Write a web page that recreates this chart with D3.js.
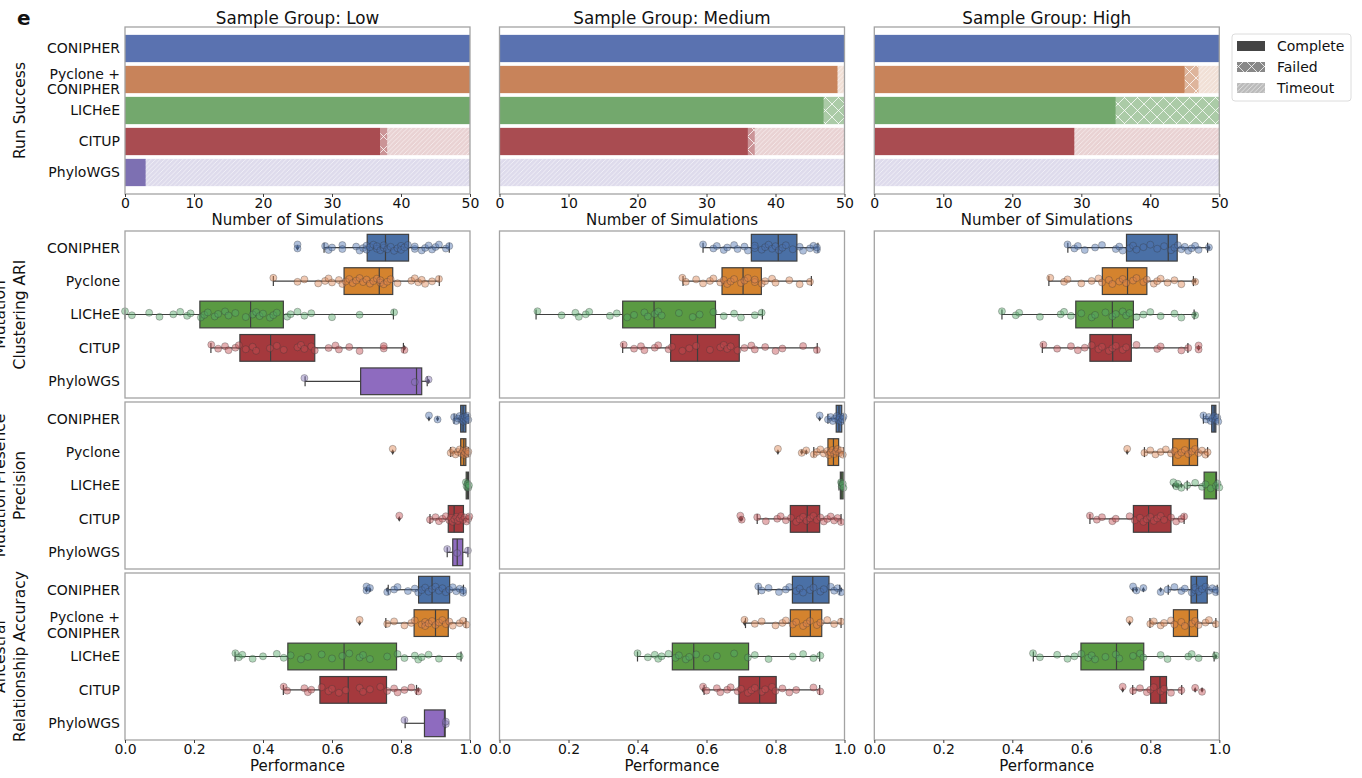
<!DOCTYPE html>
<html>
<head>
<meta charset="utf-8">
<script src="https://cdn.jsdelivr.net/npm/d3@7"></script>
<style>
  body { margin: 0; background: #fff; }
  text { font-family: "DejaVu Sans", sans-serif; fill: #111; }
</style>
</head>
<body>
<svg width="1362" height="778"></svg>
<script>
// ---- data ----
const groups = ["Low", "Medium", "High"]
const runMethods = ["CONIPHER", "Pyclone + CONIPHER", "LICHeE", "CITUP", "PhyloWGS"]
const ariMethods = ["CONIPHER", "Pyclone", "LICHeE", "CITUP", "PhyloWGS"]

// run success counts, one row per sample group
const completeRuns = [[50, 50, 50, 37, 3], [50, 49, 47, 36, 0], [50, 45, 35, 29, 0]]
const failedRuns   = [[0, 0, 0, 1, 0],     [0, 0, 3, 1, 0],     [0, 2, 15, 0, 0]]
const timeoutRuns  = [[0, 0, 0, 12, 47],   [0, 1, 0, 13, 50],   [0, 3, 0, 21, 50]]

// box stats per method: [whisker low, q1, median, q3, whisker high]
const ariStatsLow  = [[0.577, 0.702, 0.755, 0.822, 0.940], [0.430, 0.635, 0.737, 0.776, 0.911], [0.0, 0.217, 0.364, 0.459, 0.778], [0.249, 0.333, 0.422, 0.550, 0.807], [0.522, 0.683, 0.845, 0.860, 0.876]]
const ariStatsMed  = [[0.590, 0.730, 0.808, 0.862, 0.923], [0.532, 0.645, 0.706, 0.759, 0.904], [0.106, 0.357, 0.448, 0.626, 0.762], [0.357, 0.496, 0.574, 0.695, 0.921], null]
const ariStatsHigh = [[0.561, 0.731, 0.852, 0.878, 0.966], [0.506, 0.661, 0.734, 0.790, 0.925], [0.370, 0.584, 0.690, 0.751, 0.927], [0.487, 0.625, 0.691, 0.745, 0.909], null]

const precStatsLow  = [[0.954, 0.973, 0.980, 0.988, 0.995], [0.944, 0.973, 0.982, 0.988, 0.995], [0.986, 0.989, 0.993, 0.996, 0.999], [0.884, 0.937, 0.954, 0.981, 0.998], [0.934, 0.950, 0.963, 0.979, 0.994]]
const precStatsMed  = [[0.952, 0.976, 0.984, 0.992, 0.998], [0.911, 0.952, 0.968, 0.983, 0.998], [0.984, 0.988, 0.992, 0.996, 0.999], [0.747, 0.843, 0.892, 0.928, 0.990], null]
const precStatsHigh = [[0.954, 0.978, 0.985, 0.990, 0.998], [0.783, 0.865, 0.913, 0.937, 0.966], [0.907, 0.956, 0.990, 0.992, 1.0], [0.625, 0.751, 0.795, 0.860, 0.898], null]

const ancStatsLow  = [[0.763, 0.851, 0.890, 0.941, 0.981], [0.756, 0.838, 0.900, 0.937, 0.988], [0.319, 0.472, 0.635, 0.787, 0.974], [0.459, 0.565, 0.647, 0.758, 0.845], [0.812, 0.868, 0.926, 0.928, 0.929]]
const ancStatsMed  = [[0.750, 0.849, 0.908, 0.955, 0.986], [0.713, 0.843, 0.901, 0.934, 0.990], [0.400, 0.501, 0.563, 0.722, 0.928], [0.593, 0.694, 0.754, 0.802, 0.928], null]
const ancStatsHigh = [[0.852, 0.918, 0.934, 0.965, 0.994], [0.799, 0.867, 0.913, 0.937, 0.990], [0.461, 0.599, 0.702, 0.781, 0.985], [0.749, 0.801, 0.828, 0.847, 0.891], null]

// individual simulation scores (approximate, per method)
const ariPtsLow = [
  [0.50,0.50,0.58,0.59,0.60,0.63,0.63,0.67,0.68,0.69,0.70,0.70,0.71,0.72,0.73,0.73,0.74,0.75,0.75,0.76,0.77,0.78,0.79,0.80,0.80,0.81,0.82,0.84,0.84,0.86,0.87,0.88,0.89,0.90,0.91,0.93,0.94],
  [0.43,0.50,0.52,0.56,0.58,0.59,0.60,0.62,0.63,0.64,0.65,0.66,0.67,0.68,0.69,0.70,0.71,0.72,0.73,0.74,0.74,0.75,0.76,0.77,0.79,0.83,0.84,0.85,0.86,0.87,0.89,0.91],
  [0.00,0.02,0.07,0.10,0.14,0.16,0.18,0.19,0.22,0.23,0.24,0.26,0.27,0.29,0.30,0.32,0.35,0.37,0.38,0.39,0.40,0.42,0.43,0.44,0.47,0.48,0.50,0.52,0.54,0.60,0.68,0.78],
  [0.25,0.27,0.29,0.30,0.32,0.33,0.35,0.37,0.38,0.42,0.44,0.46,0.50,0.51,0.52,0.54,0.55,0.59,0.61,0.62,0.65,0.68,0.75,0.75,0.81],
  [0.52,0.84,0.88]]
const ariPtsMed = [
  [0.59,0.62,0.63,0.65,0.66,0.68,0.69,0.71,0.72,0.74,0.74,0.76,0.77,0.78,0.79,0.80,0.81,0.82,0.83,0.85,0.87,0.88,0.90,0.91,0.92,0.92],
  [0.53,0.54,0.57,0.59,0.61,0.62,0.64,0.65,0.66,0.67,0.68,0.70,0.71,0.72,0.74,0.74,0.76,0.77,0.79,0.80,0.84,0.87,0.90],
  [0.11,0.18,0.22,0.23,0.25,0.26,0.32,0.34,0.37,0.39,0.42,0.43,0.45,0.46,0.47,0.52,0.56,0.58,0.62,0.65,0.68,0.70,0.74,0.76],
  [0.36,0.39,0.41,0.42,0.45,0.46,0.49,0.50,0.53,0.55,0.57,0.61,0.64,0.65,0.66,0.67,0.69,0.71,0.73,0.74,0.77,0.80,0.82,0.88,0.92],
  []]
const ariPtsHigh = [
  [0.56,0.58,0.59,0.61,0.64,0.66,0.70,0.71,0.72,0.74,0.75,0.76,0.78,0.80,0.82,0.84,0.86,0.87,0.88,0.89,0.90,0.91,0.92,0.93,0.94,0.97],
  [0.51,0.55,0.56,0.60,0.63,0.65,0.66,0.68,0.69,0.71,0.72,0.73,0.75,0.76,0.78,0.79,0.81,0.82,0.83,0.85,0.87,0.89,0.93],
  [0.37,0.41,0.42,0.48,0.54,0.55,0.57,0.60,0.63,0.64,0.67,0.69,0.70,0.72,0.73,0.74,0.76,0.78,0.80,0.83,0.87,0.89,0.93],
  [0.49,0.53,0.57,0.59,0.61,0.63,0.65,0.66,0.68,0.69,0.70,0.72,0.73,0.76,0.82,0.83,0.89,0.91,0.94,0.94],
  []]

const precPtsLow = [
  [0.881,0.906,0.954,0.960,0.965,0.970,0.975,0.978,0.980,0.982,0.985,0.988,0.990,0.992,0.995],
  [0.776,0.944,0.950,0.958,0.965,0.970,0.975,0.980,0.983,0.986,0.990,0.993,0.995],
  [0.988,0.990,0.993,0.995,0.997],
  [0.795,0.884,0.900,0.910,0.920,0.930,0.940,0.945,0.950,0.955,0.960,0.965,0.970,0.975,0.980,0.985,0.990,0.995,0.998],
  [0.934,0.963,0.994]]
const precPtsMed = [
  [0.928,0.952,0.960,0.966,0.972,0.978,0.982,0.986,0.990,0.994,0.997],
  [0.807,0.876,0.889,0.911,0.920,0.930,0.940,0.950,0.955,0.960,0.965,0.970,0.975,0.980,0.985,0.990,0.995],
  [0.990,0.992,0.995,0.997],
  [0.698,0.702,0.747,0.772,0.805,0.815,0.830,0.845,0.860,0.870,0.880,0.890,0.900,0.910,0.920,0.930,0.940,0.950,0.960,0.970,0.980,0.990],
  []]
const precPtsHigh = [
  [0.954,0.962,0.970,0.975,0.980,0.985,0.990,0.994,0.997],
  [0.733,0.783,0.800,0.815,0.830,0.845,0.860,0.870,0.880,0.890,0.900,0.910,0.920,0.930,0.940,0.950,0.960,0.966],
  [0.867,0.875,0.880,0.890,0.907,0.930,0.950,0.960,0.975,0.990,0.995,1.000],
  [0.625,0.645,0.660,0.690,0.700,0.740,0.755,0.770,0.780,0.790,0.800,0.810,0.820,0.830,0.840,0.860,0.875,0.890,0.898],
  []]

const ancPtsLow = [
  [0.70,0.70,0.71,0.76,0.78,0.79,0.82,0.84,0.85,0.86,0.87,0.88,0.89,0.90,0.91,0.92,0.93,0.94,0.95,0.96,0.97,0.98,0.98],
  [0.68,0.76,0.78,0.81,0.83,0.84,0.86,0.87,0.87,0.88,0.89,0.90,0.91,0.92,0.93,0.94,0.95,0.97,0.98,0.99],
  [0.32,0.33,0.34,0.37,0.40,0.44,0.46,0.48,0.51,0.53,0.57,0.60,0.63,0.65,0.68,0.69,0.71,0.76,0.79,0.81,0.84,0.85,0.86,0.88,0.91,0.97],
  [0.46,0.47,0.52,0.53,0.54,0.57,0.59,0.60,0.62,0.64,0.68,0.69,0.71,0.74,0.76,0.78,0.79,0.81,0.83,0.85],
  [0.81,0.93,0.93]]
const ancPtsMed = [
  [0.75,0.76,0.78,0.81,0.83,0.84,0.86,0.87,0.88,0.90,0.91,0.93,0.94,0.96,0.97,0.98,0.99],
  [0.71,0.74,0.76,0.80,0.82,0.83,0.85,0.86,0.88,0.89,0.90,0.92,0.93,0.95,0.97,0.99],
  [0.40,0.43,0.45,0.46,0.47,0.49,0.51,0.52,0.54,0.55,0.57,0.60,0.63,0.68,0.72,0.74,0.78,0.85,0.88,0.91,0.93],
  [0.59,0.60,0.63,0.64,0.66,0.67,0.69,0.70,0.72,0.73,0.74,0.76,0.77,0.79,0.80,0.82,0.84,0.86,0.91,0.93],
  []]
const ancPtsHigh = [
  [0.75,0.76,0.78,0.83,0.85,0.87,0.89,0.90,0.92,0.93,0.93,0.94,0.95,0.96,0.97,0.98,0.99,0.99],
  [0.74,0.80,0.81,0.83,0.84,0.86,0.87,0.89,0.90,0.92,0.93,0.94,0.96,0.97,0.99],
  [0.46,0.48,0.53,0.56,0.58,0.60,0.62,0.63,0.64,0.67,0.70,0.71,0.75,0.77,0.78,0.83,0.85,0.91,0.92,0.94,0.99],
  [0.72,0.75,0.77,0.79,0.80,0.81,0.83,0.84,0.86,0.89,0.93,0.95],
  []]

const perfTicks = [0, 0.2, 0.4, 0.6, 0.8, 1.0]
const runTicks = [0, 10, 20, 30, 40, 50]
const legendLabels = ["Complete", "Failed", "Timeout"]

// ---- layout + style ----
const svg = d3.select("svg")
const colX = [125, 499.5, 874.3], panelW = 345
const rowY = [[27, 194], [231, 398], [402, 569], [573, 740]]
const barColors   = ["#5a72b0", "#c8835a", "#73a86d", "#a94c51", "#7d70b2"]
const boxColors   = ["#4a70a6", "#d4832e", "#5a9a42", "#a5393d", "#8e6bbf"]
const pointColors = ["#4c72b0", "#dd8452", "#55a868", "#c44e52", "#8172b3"]
const frameColor = "#a3a3a3", lineColor = "#3f3f3f"

// hatch patterns
const defs = svg.append("defs")
defs.append("pattern").attr("id", "diag")
    .attr("patternUnits", "userSpaceOnUse").attr("width", 4.5).attr("height", 4.5)
  .append("path").attr("d", "M0,4.5 L4.5,0 M-1,1 L1,-1 M3.5,5.5 L5.5,3.5")
    .attr("stroke", "#fff").attr("stroke-width", 0.7).attr("stroke-opacity", 0.75)
defs.append("pattern").attr("id", "cross")
    .attr("patternUnits", "userSpaceOnUse").attr("width", 13).attr("height", 13)
  .append("path").attr("d", "M0,0 L13,13 M13,0 L0,13")
    .attr("stroke", "#fff").attr("stroke-width", 0.9).attr("stroke-opacity", 0.85)

// panel label
svg.append("text").attr("x", 17).attr("y", 25)
  .style("font-size", "20px").style("font-weight", "bold").text("e")

function frame(x0, r) {
  svg.append("rect").attr("x", x0).attr("y", rowY[r][0])
    .attr("width", panelW).attr("height", rowY[r][1] - rowY[r][0])
    .attr("fill", "none").attr("stroke", frameColor).attr("stroke-width", 1.3)
}

function xAxis(x, r, ticks, fmt, label) {
  const g = svg.append("g").attr("transform", `translate(0,${rowY[r][1]})`)
    .call(d3.axisBottom(x).tickValues(ticks).tickFormat(fmt).tickSize(3).tickPadding(1.5))
  g.select(".domain").remove()
  g.selectAll(".tick line").attr("stroke", lineColor)
  g.selectAll("text").style("font-size", "14px").style("font-family", "DejaVu Sans").attr("fill", "#111")
  svg.append("text").attr("x", (x.range()[0] + x.range()[1]) / 2).attr("y", rowY[r][1] + 30.5)
    .attr("text-anchor", "middle").style("font-size", "15px").text(label)
}

function catLabels(y, r, cats) {
  cats.forEach(function(c) {
    const lines = c.split(" + ")
    const t = svg.append("text").attr("x", 120).attr("y", y(c) + y.bandwidth() / 2)
      .attr("text-anchor", "end").style("font-size", "14px")
    if (lines.length == 1) {
      t.attr("dy", "0.35em").text(c)
    } else {
      t.append("tspan").attr("x", 120).attr("dy", "-0.05em").text(lines[0] + " +")
      t.append("tspan").attr("x", 120).attr("dy", "1.1em").text(lines[1])
    }
  })
}

// ---- row 1: run success stacked bars ----
groups.forEach(function(grp, gi) {
  const x0 = colX[gi]
  const x = d3.scaleLinear().domain([0, 50]).range([x0, x0 + panelW])
  const y = d3.scaleBand().domain(runMethods).range([rowY[0][0] + 6, rowY[0][1] - 6])
    .paddingInner(0.12).paddingOuter(0.06)

  runMethods.forEach(function(m, mi) {
    const c = completeRuns[gi][mi], f = failedRuns[gi][mi], t = timeoutRuns[gi][mi]
    const yy = y(m), h = y.bandwidth()
    if (c > 0) svg.append("rect").attr("x", x(0)).attr("y", yy).attr("width", x(c) - x(0)).attr("height", h)
      .attr("fill", barColors[mi])
    if (f > 0) {
      svg.append("rect").attr("x", x(c)).attr("y", yy).attr("width", x(c + f) - x(c)).attr("height", h)
        .attr("fill", barColors[mi]).attr("fill-opacity", 0.6)
      svg.append("rect").attr("x", x(c)).attr("y", yy).attr("width", x(c + f) - x(c)).attr("height", h)
        .attr("fill", "url(#cross)")
    }
    if (t > 0) {
      svg.append("rect").attr("x", x(c + f)).attr("y", yy).attr("width", x(c + f + t) - x(c + f)).attr("height", h)
        .attr("fill", barColors[mi]).attr("fill-opacity", 0.25)
      svg.append("rect").attr("x", x(c + f)).attr("y", yy).attr("width", x(c + f + t) - x(c + f)).attr("height", h)
        .attr("fill", "url(#diag)")
    }
  })

  frame(x0, 0)
  xAxis(x, 0, runTicks, d3.format("d"), "Number of Simulations")
  svg.append("text").attr("x", x0 + panelW / 2).attr("y", 24)
    .attr("text-anchor", "middle").style("font-size", "16.8px").text("Sample Group: " + grp)
  if (gi == 0) catLabels(y, 0, runMethods)
})

// ---- rows 2-4: box + strip plots ----
function boxPanel(r, gi, cats, stats, pts) {
  const x0 = colX[gi]
  const x = d3.scaleLinear().domain([0, 1]).range([x0, x0 + panelW])
  const y = d3.scaleBand().domain(cats).range(rowY[r])
  const bh = y.bandwidth() * 0.8

  cats.forEach(function(m, mi) {
    const s = stats[mi]
    const cy = y(m) + y.bandwidth() / 2
    if (s) {
      const [lo, q1, med, q3, hi] = s
      const g = svg.append("g")
      g.append("line").attr("x1", x(lo)).attr("x2", x(q1)).attr("y1", cy).attr("y2", cy)
      g.append("line").attr("x1", x(q3)).attr("x2", x(hi)).attr("y1", cy).attr("y2", cy)
      g.append("line").attr("x1", x(lo)).attr("x2", x(lo)).attr("y1", cy - 5).attr("y2", cy + 5)
      g.append("line").attr("x1", x(hi)).attr("x2", x(hi)).attr("y1", cy - 5).attr("y2", cy + 5)
      g.append("rect").attr("x", x(q1)).attr("y", cy - bh / 2).attr("width", Math.max(x(q3) - x(q1), 1)).attr("height", bh)
        .attr("fill", boxColors[mi])
      g.append("line").attr("x1", x(med)).attr("x2", x(med)).attr("y1", cy - bh / 2).attr("y2", cy + bh / 2)
      g.selectAll("line").attr("stroke", lineColor).attr("stroke-width", 1.2)
      g.select("rect").attr("stroke", lineColor).attr("stroke-width", 1.2)

      // fliers
      svg.selectAll(null).data(pts[mi].filter((v) => v < lo - 0.002 || v > hi + 0.002))
        .enter().append("path")
          .attr("d", d3.symbol(d3.symbolDiamond, 9))
          .attr("transform", (v) => `translate(${x(v)},${cy})`)
          .attr("fill", lineColor)
    }
    // jittered points
    svg.selectAll(null).data(pts[mi])
      .enter().append("circle")
        .attr("cx", (v) => x(v))
        .attr("cy", (v, i) => cy + (((i * 0.618034) % 1) - 0.5) * 6.5)
        .attr("r", 3.5)
        .attr("fill", pointColors[mi]).attr("fill-opacity", 0.45)
        .attr("stroke", "#333").attr("stroke-opacity", 0.45).attr("stroke-width", 0.7)
  })

  frame(x0, r)
  if (r == 3) xAxis(x, r, perfTicks, d3.format(".1f"), "Performance")
  if (gi == 0) catLabels(y, r, cats)
}

const ariStats = [ariStatsLow, ariStatsMed, ariStatsHigh], ariPts = [ariPtsLow, ariPtsMed, ariPtsHigh]
const precStats = [precStatsLow, precStatsMed, precStatsHigh], precPts = [precPtsLow, precPtsMed, precPtsHigh]
const ancStats = [ancStatsLow, ancStatsMed, ancStatsHigh], ancPts = [ancPtsLow, ancPtsMed, ancPtsHigh]

groups.forEach(function(grp, gi) {
  boxPanel(1, gi, ariMethods, ariStats[gi], ariPts[gi])
  boxPanel(2, gi, ariMethods, precStats[gi], precPts[gi])
  boxPanel(3, gi, runMethods, ancStats[gi], ancPts[gi])
})

// ---- row titles (rotated, first lines run off the left edge as in the source) ----
const rowTitles = [["Run Success"], ["Mutation", "Clustering ARI"], ["Mutation Presence", "Precision"], ["Ancestral", "Relationship Accuracy"]]
rowTitles.forEach(function(lines, r) {
  const cy = (rowY[r][0] + rowY[r][1]) / 2
  const xs = lines.length == 1 ? [25] : [5, 24.5]
  lines.forEach(function(l, li) {
    svg.append("text").attr("transform", `translate(${xs[li]},${cy}) rotate(-90)`)
      .attr("text-anchor", "middle").style("font-size", "15.5px").text(l)
  })
})

// ---- legend ----
const lg = svg.append("g").attr("transform", "translate(1232,34)")
lg.append("rect").attr("width", 119).attr("height", 67).attr("rx", 3)
  .attr("fill", "#fff").attr("stroke", "#dcdcdc")
const legendFill = ["#444", "#888", "#bbb"], legendHatch = [null, "url(#cross)", "url(#diag)"]
legendLabels.forEach(function(l, i) {
  const yy = 12 + i * 21
  lg.append("rect").attr("x", 5).attr("y", yy - 5).attr("width", 28).attr("height", 10).attr("fill", legendFill[i])
  if (legendHatch[i]) lg.append("rect").attr("x", 5).attr("y", yy - 5).attr("width", 28).attr("height", 10).attr("fill", legendHatch[i])
  lg.append("text").attr("x", 45).attr("y", yy).attr("dy", "0.35em").style("font-size", "14px").text(l)
})
</script>
</body>
</html>
